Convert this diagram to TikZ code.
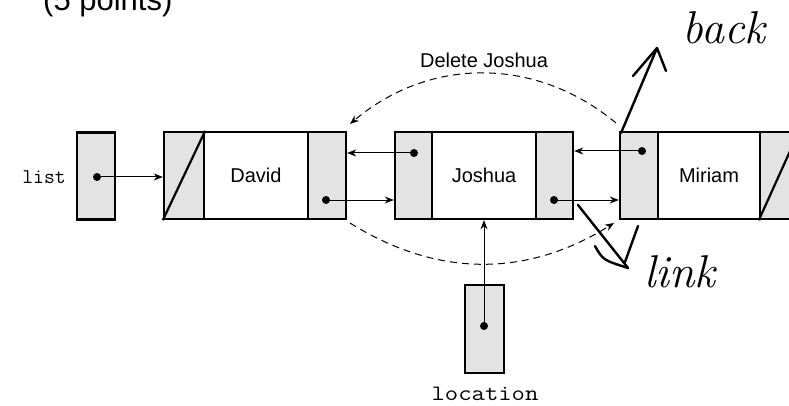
\documentclass[tikz,border=0pt]{standalone}
\usepackage{fontspec}
\setmainfont{Liberation Sans}
\newfontfamily\handfont{Latin Modern Roman}
\usetikzlibrary{arrows.meta}

\begin{document}
\begin{tikzpicture}[x=1pt,y=-1pt,
  cell/.style={draw, line width=2.4pt, minimum height=87pt, inner sep=0pt, anchor=center},
  ptrcell/.style={cell, fill=gray!22, minimum width=38pt},
  datacell/.style={cell, fill=white, minimum width=104pt, font=\fontsize{20}{24}\selectfont},
  dot/.style={circle, fill=black, inner sep=0pt, minimum size=8pt},
  link/.style={-{Stealth[length=9pt,width=7pt]}, line width=1pt},
  hop/.style={dash pattern=on 7pt off 5pt, line width=1pt},
  pen/.style={line width=2.4pt, line cap=round, line join=round},
  hand/.style={font=\handfont\itshape\fontsize{46}{50}\selectfont},
]
\useasboundingbox (0,0) rectangle (789,406);

% header, mostly above the page
\node[anchor=base west, inner sep=0pt, font=\fontsize{31}{36}\selectfont] (hdr) at (43,11) {(5 points)};

% head pointer
\node[ptrcell] (listbox) at (96,176) {};
\node[font=\ttfamily\fontsize{21}{24}\selectfont] (listlbl) at (44,177) {list};

% node David
\node[ptrcell, minimum width=40pt] (dL) at (184,175.5) {};
\node[datacell] (dD) at (256,175.5) {David};
\node[ptrcell] (dR) at (327,175.5) {};
\draw[line width=2.2pt] (dL.south west) -- (dL.north east);

% node Joshua
\node[ptrcell, minimum width=37pt] (jL) at (413.5,175.5) {};
\node[datacell] (jD) at (484,175.5) {Joshua};
\node[ptrcell, minimum width=37pt] (jR) at (554.5,175.5) {};

% node Miriam
\node[ptrcell] (mL) at (639,175.5) {};
\node[datacell, minimum width=102pt] (mD) at (709,175.5) {Miriam};
\node[ptrcell] (mR) at (779,175.5) {};
\draw[line width=2.2pt] (mR.south west) -- (mR.north east);

% location pointer
\node[ptrcell, minimum width=39pt, minimum height=88pt] (locbox) at (484.5,329) {};
\node[anchor=base, inner sep=0pt, font=\ttfamily\fontsize{22}{26}\selectfont] (loclbl) at (485,400) {\scalebox{1.18}[1]{location}};

% pointer dots
\node[dot] (listdot) at (97,177) {};
\node[dot] (dRdot) at (326,200) {};
\node[dot] (jLdot) at (414,153) {};
\node[dot] (jRdot) at (554,200) {};
\node[dot] (mLdot) at (642,151) {};
\node[dot] (locdot) at (484,326) {};

% links
\draw[link] (listdot.center) -- (listdot -| dL.west);
\draw[link] (dRdot.center) -- (dRdot -| jL.west);
\draw[link] (jLdot.center) -- (jLdot -| dR.east);
\draw[link] (jRdot.center) -- (jRdot -| mL.west);
\draw[link] (mLdot.center) -- (mLdot -| jR.east);
\draw[link] (locdot.center) -- (locdot |- jD.south);

% relinking around the deleted node
\coordinate (topA) at (616,123);
\coordinate (topB) at (350,124);
\coordinate (botA) at (350,223);
\coordinate (botB) at (614,223);
\draw[hop, -{Stealth[length=9pt,width=7pt]}] (topA) to[bend right=40] (topB);
\draw[hop, -{Stealth[length=9pt,width=7pt]}] (botA) to[bend right=32] (botB);
\node[font=\fontsize{20}{24}\selectfont] (dellbl) at (484,60) {Delete Joshua};

% pen notes
\coordinate (backfoot) at (621,133);
\coordinate (backtip) at (657,48);
\draw[pen] (backfoot) -- (backtip);
\draw[pen] (633,76) -- (backtip) -- (666,71);
\node[hand] (backlbl) at (724,28) {back};

\coordinate (linkfoot) at (578,205);
\coordinate (linktip) at (628,268);
\draw[pen] (linkfoot) -- (linktip);
\draw[pen] (595,246) .. controls (603,260) .. (linktip);
\draw[pen] (638,226) -- (625,262);
\node[hand] (linklbl) at (680,272) {link};
\end{tikzpicture}
\end{document}
